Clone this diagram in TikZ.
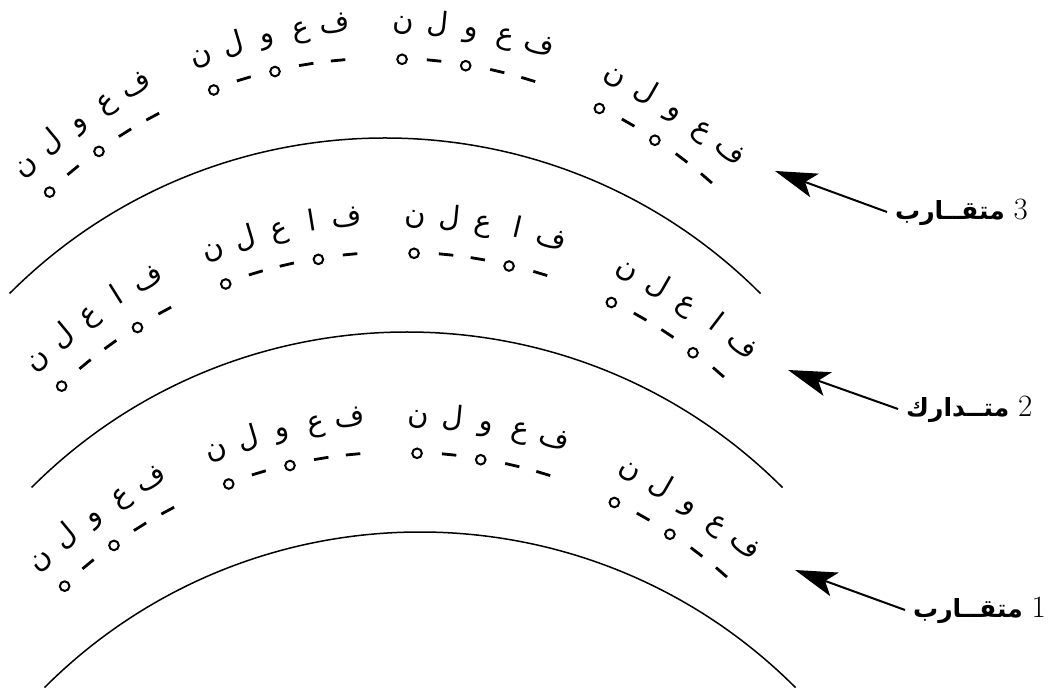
\documentclass[tikz,border=0pt]{standalone}
\usepackage{fontspec}
\newfontfamily\arabicfont[Script=Arabic]{DejaVu Sans}
\TeXXeTstate=1
\usepackage{tikz}
\usetikzlibrary{arrows.meta}

\tikzset{
  harf/.style={font=\arabicfont\fontsize{29}{29}\selectfont, inner sep=0pt, anchor=base},
  mutaharrik/.style={line width=2.8pt},
  sakin/.style={line width=2pt},
  pointer/.style={-{Stealth[length=42pt,width=25pt,inset=10pt]}, line width=2pt},
  bahr/.style={font=\arabicfont\bfseries\fontsize{25}{25}\selectfont, anchor=west, inner sep=8pt},
}

\begin{document}
\begin{tikzpicture}[x=1pt, y=1pt]
				\useasboundingbox (0,0) rectangle (1048,693);
				
				% Centres of the circles
				\coordinate (c3) at (385,24);
				\coordinate (c2) at (407,-170);
				\coordinate (c1) at (420,-370);
				\coordinate (t3) at (385,145);
				\coordinate (t2) at (397,-49);
				\coordinate (t1) at (400,-249);
				
				% Arcs
				\foreach \k in {1,2,3}
					\draw[line width=1.5pt] ([shift={(45:531)}]c\k) arc[start angle=45, end angle=135, radius=531];
				
				% Feet
				\foreach \k in {1,2,3} {
					\ifnum\k=2 \def\taf{ف/0,ا/1,ع/0,ل/0,ن/1}\else \def\taf{ف/0,ع/0,و/1,ل/0,ن/1}\fi
					\foreach \f [count=\j] in {33.5,9.5,-13,-35.8} {
						\foreach \h/\m [count=\i] in \taf {
							\pgfmathsetmacro\ang{90-\f-(3-\i)*3.75}
							\node[harf, rotate=\ang-90] (h\k-\j-\i) at ([shift={(\ang:518)}]t\k) {\h};
							\ifnum\m=1
								\draw[sakin] ([shift={(\ang:489)}]t\k) circle (4.8);
							\else
								\draw[mutaharrik] ([shift={(\ang+0.85:490)}]t\k) -- ([shift={(\ang-0.85:490)}]t\k);
							\fi
						}
					}
				}
				
				% Labels
				\node[bahr] (lab3) at (887,481) {\beginR متقــارب\endR\ {\normalfont\fontsize{31}{31}\selectfont 3}};
				\node[bahr] (lab2) at (898,284) {\beginR متــدارك\endR\ {\normalfont\fontsize{31}{31}\selectfont 2}};
				\node[bahr] (lab1) at (905,83) {\beginR متقــارب\endR\ {\normalfont\fontsize{31}{31}\selectfont 1}};
				
				\coordinate (tip3) at (775,522);
				\coordinate (tip2) at (788,323);
				\coordinate (tip1) at (795,123);
				\draw[pointer] (lab3.west) -- (tip3);
				\draw[pointer] (lab2.west) -- (tip2);
				\draw[pointer] (lab1.west) -- (tip1);
			\end{tikzpicture}
\end{document}
